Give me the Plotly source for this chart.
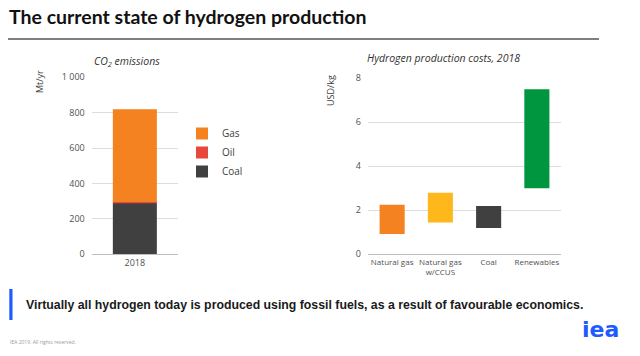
import plotly.graph_objects as go

W, H = 640, 356

# ---- data ----
co2_year = ["2018"]
co2_coal = [290]
co2_oil = [5]
co2_gas = [525]
co2_ticks = [0, 200, 400, 600, 800, 1000]
co2_ticktext = ["0", "200", "400", "600", "800", "1 000"]

cost_cats = ["Natural gas", "Natural gas<br>w/CCUS", "Coal", "Renewables"]
cost_low = [0.92, 1.45, 1.2, 3.0]
cost_high = [2.25, 2.8, 2.2, 7.5]
cost_colors = ["#F58220", "#FFB81C", "#404040", "#00963F"]
cost_ticks = [0, 2, 4, 6, 8]


def px(x):
    return x / W


def py(y):
    return 1 - y / H


fig = go.Figure()

# left stacked bar (bases computed from the series)
oil_base = [c for c in co2_coal]
gas_base = [c + o for c, o in zip(co2_coal, co2_oil)]
fig.add_trace(go.Bar(x=co2_year, y=co2_coal, base=[0] * len(co2_coal), name="Coal",
                     marker=dict(color="#404040", line=dict(width=0)), width=0.51,
                     xaxis="x", yaxis="y", legendrank=3))
fig.add_trace(go.Bar(x=co2_year, y=co2_oil, base=oil_base, name="Oil",
                     marker=dict(color="#E8473B", line=dict(width=0)), width=0.51,
                     xaxis="x", yaxis="y", legendrank=2))
fig.add_trace(go.Bar(x=co2_year, y=co2_gas, base=gas_base, name="Gas",
                     marker=dict(color="#F58220", line=dict(width=0)), width=0.51,
                     xaxis="x", yaxis="y", legendrank=1))

# right floating bars
fig.add_trace(go.Bar(x=cost_cats, y=[h - l for h, l in zip(cost_high, cost_low)], base=cost_low,
                     marker=dict(color=cost_colors, line=dict(width=0)), width=0.52,
                     xaxis="x2", yaxis="y2", showlegend=False))

tickfont = dict(family="Open Sans, sans-serif", size=9, color="#505050")
grid = "#DDDDDD"

fig.update_layout(
    width=W, height=H,
    margin=dict(l=0, r=0, t=0, b=0, pad=0, autoexpand=False),
    paper_bgcolor="white", plot_bgcolor="white",
    barmode="overlay",
    xaxis=dict(domain=[px(91.7), px(178)], type="category", showgrid=False,
               showline=True, linecolor="#BFBFBF", linewidth=1, ticks="",
               tickfont=tickfont, anchor="y", automargin=False),
    yaxis=dict(domain=[py(254.3), py(77.3)], range=[0, 1000], tickvals=co2_ticks,
               ticktext=co2_ticktext, showgrid=True, gridcolor=grid, gridwidth=1,
               zeroline=False, tickfont=tickfont, anchor="x", ticks="",
               ticklabelstandoff=6, automargin=False),
    xaxis2=dict(domain=[px(368), px(561)], type="category", showgrid=False,
                showline=True, linecolor="#BFBFBF", linewidth=1, ticks="",
                tickfont=dict(family="Open Sans, sans-serif", size=8, color="#505050"),
                anchor="y2", automargin=False),
    yaxis2=dict(domain=[py(254.3), py(78.3)], range=[0, 8], tickvals=cost_ticks,
                showgrid=True, gridcolor=grid, gridwidth=1, zeroline=False,
                tickfont=tickfont, anchor="x2", ticks="", ticklabelstandoff=6,
                automargin=False),
    legend=dict(x=px(182), y=py(119), xanchor="left", yanchor="top",
                font=dict(family="Open Sans, sans-serif", size=10, color="#404040"),
                traceorder="normal", tracegroupgap=0, itemwidth=30,
                bgcolor="rgba(0,0,0,0)"),
    showlegend=True,
)

shapes = [
    dict(type="line", xref="paper", yref="paper", x0=px(8), x1=px(599), y0=py(39), y1=py(39),
         line=dict(color="#7F7F7F", width=2)),
    dict(type="rect", xref="paper", yref="paper", x0=px(9.3), x1=px(12.5), y0=py(320), y1=py(289),
         fillcolor="#1E5BFF", line=dict(width=0)),
]
fig.update_layout(shapes=shapes)

ann = [
    dict(text="<b>The current state of hydrogen production</b>", x=px(7), y=py(17),
         xanchor="left", yanchor="middle",
         font=dict(family="Lato, sans-serif", size=19.5, color="#111111")),
    dict(text="<i>CO<sub>2</sub> emissions</i>", x=px(92), y=py(62), xanchor="left", yanchor="middle",
         font=dict(family="Open Sans, sans-serif", size=10.5, color="#333333")),
    dict(text="<i>Hydrogen production costs, 2018</i>", x=px(365), y=py(58), xanchor="left",
         yanchor="middle", font=dict(family="Open Sans, sans-serif", size=10.5, color="#333333")),
    dict(text="Mt/yr", x=px(39), y=py(82), textangle=-90, xanchor="center", yanchor="middle",
         font=dict(family="Open Sans, sans-serif", size=9, color="#404040")),
    dict(text="USD/kg", x=px(330), y=py(91), textangle=-90, xanchor="center", yanchor="middle",
         font=dict(family="Open Sans, sans-serif", size=9, color="#404040")),
    dict(text="<b>Virtually all hydrogen today is produced using fossil fuels, as a result of favourable economics.</b>",
         x=px(24), y=py(305), xanchor="left", yanchor="middle",
         font=dict(family="Liberation Sans, Arial, sans-serif", size=12.3, color="#1A1A1A")),
    dict(text="IEA 2019. All rights reserved.", x=px(8), y=py(342), xanchor="left", yanchor="middle",
         font=dict(family="Open Sans, sans-serif", size=5, color="#9A9A9A")),
    dict(text="<b>iea</b>", x=px(600), y=py(329), xanchor="center", yanchor="middle",
         font=dict(family="DejaVu Sans, sans-serif", size=22, color="#1E5BFF")),
]
for a in ann:
    a.setdefault("xref", "paper")
    a.setdefault("yref", "paper")
    a.setdefault("showarrow", False)
fig.update_layout(annotations=ann)

fig.write_html("out.html", config=dict(displayModeBar=False),
               post_script="document.body.style.margin='0';document.body.style.overflow='hidden';")
